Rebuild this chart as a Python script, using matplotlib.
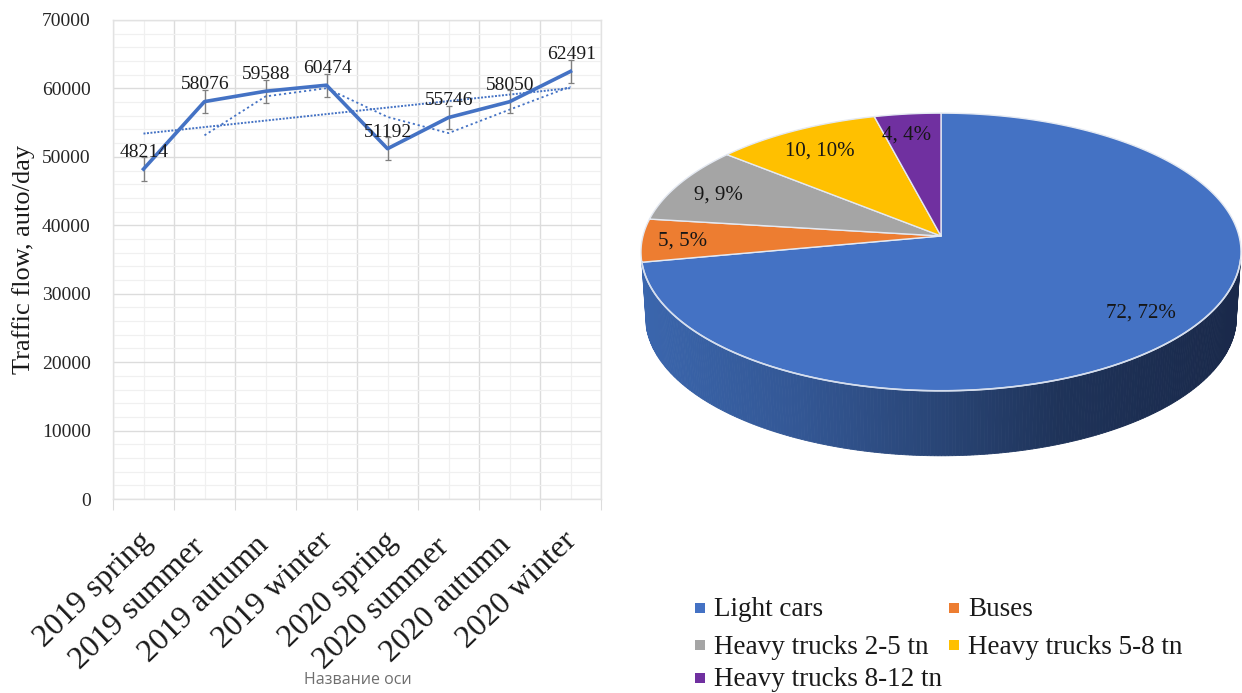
import numpy as np
import matplotlib
matplotlib.use("Agg")
from matplotlib import pyplot as plt
from matplotlib.patches import Polygon, Rectangle
from matplotlib.ticker import MultipleLocator

seasons = ["2019 spring", "2019 summer", "2019 autumn", "2019 winter",
           "2020 spring", "2020 summer", "2020 autumn", "2020 winter"]
traffic = [48214, 58076, 59588, 60474, 51192, 55746, 58050, 62491]
traffic_err = [1700, 1700, 1700, 1700, 1700, 1700, 1700, 1700]
# two period moving average, starts at the second season
moving_avg = [53145, 58832, 60031, 55833, 53469, 56898, 60270]
linear_trend = [53400, 54350, 55300, 56250, 57200, 58150, 59100, 60050]

vehicle_types = ["Light cars", "Buses", "Heavy trucks 2-5 tn", "Heavy trucks 5-8 tn", "Heavy trucks 8-12 tn"]
vehicle_share = [72, 5, 9, 10, 4]
vehicle_colors = ["#4472C4", "#ED7D31", "#A5A5A5", "#FFC000", "#7030A0"]

W, H = 1242, 693
BLUE = "#4472C4"
plt.rcParams["font.family"] = ["Liberation Serif", "DejaVu Serif"]

fig = plt.figure(figsize=(W / 100, H / 100), dpi=100)

# --- line chart ---
left, right, top, bottom = 113, 601, 20, 499
ax = fig.add_axes([left / W, 1 - bottom / H, (right - left) / W, (bottom - top) / H])
x = np.arange(len(seasons)) + 0.5
ax.set_xlim(0, len(seasons))
ax.set_ylim(0, 70000)

ax.yaxis.set_major_locator(MultipleLocator(10000))
ax.yaxis.set_minor_locator(MultipleLocator(2000))
ax.xaxis.set_major_locator(MultipleLocator(1))
ax.xaxis.set_minor_locator(MultipleLocator(0.5))
ax.grid(which="major", color="#DCDCDC", lw=1.0)
ax.grid(which="minor", color="#F0F0F0", lw=0.9)
ax.set_axisbelow(True)
for s in ax.spines.values():
    s.set_color("#E2E2E2")
    s.set_linewidth(1.0)

ax.tick_params(axis="y", which="both", length=0)
ax.tick_params(axis="y", which="major", labelsize=14, pad=16, labelcolor="#262626")
ax.tick_params(axis="x", which="major", length=8, color="#DCDCDC", labelbottom=False)
ax.tick_params(axis="x", which="minor", length=0)

ax.plot(x, linear_trend, color=BLUE, lw=1.4, ls=(0, (1, 0.8)), zorder=3)
ax.plot(x[1:], moving_avg, color=BLUE, lw=1.3, ls=(0, (1.2, 1.6)), zorder=3)
ax.errorbar(x, traffic, yerr=traffic_err, fmt="none", ecolor="#7F7F7F", elinewidth=1.0,
            capsize=2.5, capthick=0.9, zorder=4)
ax.plot(x, traffic, color=BLUE, lw=2.6, zorder=5, solid_joinstyle="round")

for xi, val in zip(x, traffic):
    ax.annotate(str(val), (xi, val), xytext=(0.5, 12), textcoords="offset points",
                ha="center", va="center", fontsize=14, color="#1a1a1a", zorder=6)

# the season labels do not sit evenly under their ticks
season_shift = [2, -4, -2, 0, 3, -4, -3, 0]
season_drop = [0, 4, 3, 0, 0, 4, 3, 0]
for xi, name, dx, dy in zip(x, seasons, season_shift, season_drop):
    ax.annotate(name, (xi, 0), xytext=(-6 + dx, -20 - dy), textcoords="offset points", rotation=44,
                rotation_mode="anchor", ha="right", va="top", fontsize=23,
                color="#1a1a1a", annotation_clip=False)

fig.text(24 / W, 1 - 259 / H, "Traffic flow, auto/day", rotation=90, fontsize=19,
         ha="center", va="center", color="#1a1a1a")
fig.text(358 / W, 1 - 680 / H, "Название оси", fontsize=11.5, ha="center", va="center",
         color="#6E6E6E", family=["Open Sans", "DejaVu Sans"])

# --- pie with depth, drawn in pixel coordinates on an overlay ---
pie = fig.add_axes([0, 0, 1, 1], facecolor="none")
pie.set_xlim(0, W)
pie.set_ylim(H, 0)
pie.axis("off")

cx, cy = 941, 236
rx, ry = 298, 137
persp = 0.115
depth = 65


def rim(clock_deg, scale=1.0, drop=0.0):
    # clock_deg runs clockwise from twelve o'clock, the far side of the disc is foreshortened
    t = np.radians(clock_deg)
    u, v = np.sin(t), np.cos(t)
    return np.column_stack([cx + scale * rx * u / (1 + persp * v),
                            cy + drop - ry * v / (1 + persp * v)])


edges = np.cumsum([0] + vehicle_share) * 3.6

# side wall of the large slice, shaded from left to right
stop_x = [640, 800, 941, 1060, 1240]
stop_rgb = np.array([[0.23, 0.40, 0.68], [0.20, 0.34, 0.58], [0.16, 0.27, 0.46],
                     [0.12, 0.20, 0.35], [0.10, 0.16, 0.29]])
wall_angles = np.linspace(100, edges[1], 260)
upper = rim(wall_angles)
lower = rim(wall_angles, scale=0.985, drop=depth)
for i in range(len(wall_angles) - 1):
    quad = [upper[i], upper[i + 1], lower[i + 1], lower[i]]
    mid = (upper[i][0] + upper[i + 1][0]) / 2
    col = [np.interp(mid, stop_x, stop_rgb[:, c]) for c in range(3)]
    pie.add_patch(Polygon(quad, closed=True, facecolor=col, edgecolor=col, lw=0.6, zorder=2))

# top face
for a0, a1, col in zip(edges[:-1], edges[1:], vehicle_colors):
    arc = rim(np.linspace(a0, a1, 200))
    pts = np.vstack([[cx, cy], arc])
    pie.add_patch(Polygon(pts, closed=True, facecolor=col, edgecolor="#E4E9F2", lw=1.0, zorder=3,
                          joinstyle="round"))
front = rim(np.linspace(100, edges[1], 300))
pie.plot(front[:, 0], front[:, 1], color="#D5DEEE", lw=1.2, zorder=4)

pie_labels = [f"{v}, {v}%" for v in vehicle_share]
label_x = [1141, 683, 718, 820, 907]
label_y = [313, 241, 195, 151, 135]
for lab, lx, ly in zip(pie_labels, label_x, label_y):
    pie.text(lx, ly, lab, fontsize=15, ha="center", va="center", color="#161616", zorder=5)

# legend laid out in two columns
legend_x = [714, 968, 714, 968, 714]
legend_y = [610, 610, 647, 647, 680]
for name, col, lx, ly in zip(vehicle_types, vehicle_colors, legend_x, legend_y):
    pie.add_patch(Rectangle((lx - 19, ly - 7), 10, 10, facecolor=col, edgecolor="none"))
    pie.text(lx, ly, name, fontsize=19.5, ha="left", va="center", color="#1a1a1a")

fig.savefig("out.png", dpi=100)
